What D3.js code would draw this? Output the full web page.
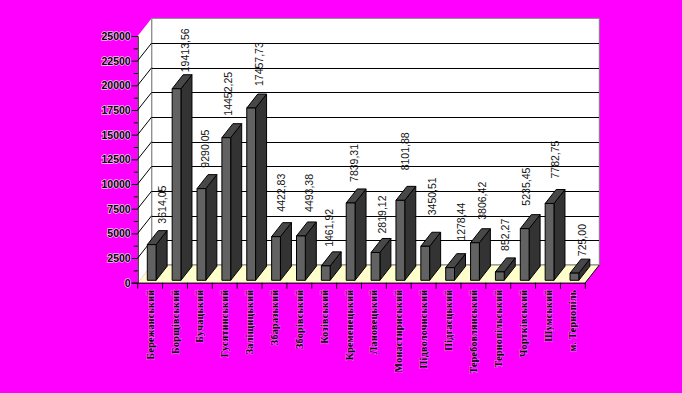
<!DOCTYPE html>
<html>
<head>
<meta charset="utf-8">
<script src="https://cdn.jsdelivr.net/npm/d3@7"></script>
<style>
    body { margin: 0; background: #ff00ff; }
    svg { display: block; }
</style>
</head>
<body>
<svg id="chart"></svg>
<script>
const districts = ["Бережанський", "Борщівський", "Бучацький", "Гусятинський", "Заліщицький",
    "Збаразький", "Зборівський", "Козівський", "Кременецький", "Лановецький", "Монастириський",
    "Підволочиський", "Підгаєцький", "Теребовлянський", "Тернопільський", "Чортківський",
    "Шумський", "м. Тернопіль"];
const values = [3614.05, 19413.56, 9290.05, 14452.25, 17457.73, 4422.83, 4493.38, 1461.92, 7839.31,
    2819.12, 8101.88, 3450.51, 1278.44, 3806.42, 852.27, 5235.45, 7782.75, 725.00];
const majorTicks = [0, 2500, 5000, 7500, 10000, 12500, 15000, 17500, 20000, 22500, 25000];
const minorTicks = [1250, 3750, 6250, 8750, 11250, 13750, 16250, 18750, 21250, 23750];

// the original labels wander around a bit, so each one has its own nudge
const labelDx = [12, 10, 5, 3.5, 10, 7, 9.5, 5.5, 5.6, 8, 6.5, 9, 12.4, 9, 7, 3, 7.6, 9];
const labelGap = [7, 2.5, 7, 8, 8, 11, 10, 5, 7, 5, 16, 17, 13, 9, 7, 9, 11, 3];

const width = 682;
const height = 393;
const depth = {x: 14, y: 17.7};       // wall offset of the 3d box
const barDepth = {x: 11, y: 14};
const barLift = 2.4;                  // bars stand a little behind the front edge

const x = d3.scaleBand()
    .domain(districts)
    .range([137.7, 585.3]);
const y = d3.scaleLinear()
    .domain([0, 25000])
    .range([282.7, 36]);

const svg = d3.select("#chart")
    .attr("width", width)
    .attr("height", height)
    .style("background", "#ff00ff");

const polyline = pts => pts.map(p => p.join(",")).join(" ");
const left = x.range()[0];
const right = x.range()[1];
const floorY = y(0);
const topY = y(25000);

// walls and floor
svg.append("polygon")
    .attr("points", polyline([[left + depth.x, topY - depth.y], [right + depth.x, topY - depth.y],
        [right + depth.x, floorY - depth.y], [left + depth.x, floorY - depth.y]]))
    .attr("fill", "white")
    .attr("stroke", "#808080");
svg.append("polygon")
    .attr("points", polyline([[left, topY], [left + depth.x, topY - depth.y],
        [left + depth.x, floorY - depth.y], [left, floorY]]))
    .attr("fill", "white");
svg.append("polygon")
    .attr("points", polyline([[left, floorY], [left + depth.x, floorY - depth.y],
        [right + depth.x, floorY - depth.y], [right, floorY]]))
    .attr("fill", "#ffffcc");
svg.append("line")
    .attr("x1", left + depth.x).attr("y1", floorY - depth.y)
    .attr("x2", right + depth.x).attr("y2", floorY - depth.y)
    .attr("stroke", "#808080");
svg.append("line")
    .attr("x1", left + depth.x).attr("y1", topY - depth.y)
    .attr("x2", left + depth.x).attr("y2", floorY - depth.y)
    .attr("stroke", "#808080");
svg.append("line")
    .attr("x1", right).attr("y1", floorY)
    .attr("x2", right + depth.x).attr("y2", floorY - depth.y)
    .attr("stroke", "black");

// gridlines, back wall then side wall
const gridTicks = majorTicks.filter(d => d > 0 && d < 25000);
svg.selectAll(".grid")
    .data(gridTicks)
    .join("line")
    .attr("class", "grid")
    .attr("x1", left + depth.x)
    .attr("x2", right + depth.x)
    .attr("y1", d => Math.round(y(d) - depth.y) + 0.5)
    .attr("y2", d => Math.round(y(d) - depth.y) + 0.5)
    .attr("stroke", "black")
    .attr("shape-rendering", "crispEdges");
svg.selectAll(".gridSide")
    .data(gridTicks)
    .join("line")
    .attr("class", "gridSide")
    .attr("x1", left)
    .attr("x2", left + depth.x)
    .attr("y1", d => y(d))
    .attr("y2", d => y(d) - depth.y)
    .attr("stroke", "black");

// bars
const barX = d => x(d.name) + 9.6;
const barW = 8.8;
const barBase = floorY - barLift;
const barTop = d => barBase - (floorY - y(d.value));
const barData = districts.map((name, i) => ({name: name, value: values[i], i: i}));

const bars = svg.selectAll(".bar")
    .data(barData)
    .join("g")
    .attr("class", "bar")
    .attr("stroke", "black")
    .attr("stroke-linejoin", "round");

bars.append("polygon")
    .attr("fill", "#333333")
    .attr("points", d => polyline([
        [barX(d) + barW, barTop(d)], [barX(d) + barW + barDepth.x, barTop(d) - barDepth.y],
        [barX(d) + barW + barDepth.x, barBase - barDepth.y], [barX(d) + barW, barBase]]));
bars.append("polygon")
    .attr("fill", "#484848")
    .attr("points", d => polyline([
        [barX(d), barTop(d)], [barX(d) + barDepth.x, barTop(d) - barDepth.y],
        [barX(d) + barW + barDepth.x, barTop(d) - barDepth.y], [barX(d) + barW, barTop(d)]]));
bars.append("rect")
    .attr("fill", "#626262")
    .attr("x", d => barX(d))
    .attr("y", d => barTop(d))
    .attr("width", barW)
    .attr("height", d => barBase - barTop(d));

// value labels
const commaFormat = d3.format(".2f");
svg.selectAll(".valueLabel")
    .data(barData)
    .join("text")
    .attr("class", "valueLabel")
    .attr("transform", d => {
        const lx = x(d.name) + x.bandwidth() / 2 + labelDx[d.i];
        const ly = barTop(d) - barDepth.y - labelGap[d.i];
        return "translate(" + lx + "," + ly + ")rotate(-90)";
    })
    .attr("dy", "0.35em")
    .style("font", "10.5px 'Liberation Sans'")
    .attr("fill", "#111")
    .text(d => commaFormat(d.value).replace(".", ","));

// value axis
const haloText = (sel, alpha) => sel
    .attr("stroke", "rgba(255,255,255," + alpha + ")")
    .attr("stroke-width", 1.4)
    .attr("paint-order", "stroke")
    .attr("fill", "black");

const yAxis = svg.append("g")
    .attr("transform", "translate(" + left + ",0)")
    .call(d3.axisLeft(y).tickValues(majorTicks).tickSize(6).tickPadding(1).tickFormat(d3.format("d")));
yAxis.selectAll("text")
    .style("font", "bold 10.5px 'Liberation Sans'")
    .call(haloText, 0.75);
svg.append("g")
    .attr("transform", "translate(" + left + ",0)")
    .call(d3.axisLeft(y).tickValues(minorTicks).tickSize(4).tickFormat(""))
    .select(".domain").remove();

// category axis
const xAxis = svg.append("g")
    .attr("transform", "translate(0," + floorY + ")")
    .call(d3.axisBottom(x).tickSize(0).tickPadding(0));
xAxis.selectAll(".tick text")
    .attr("transform", "rotate(-90)")
    .attr("x", -7)
    .attr("y", 0)
    .attr("dy", "0.35em")
    .style("text-anchor", "end")
    .style("font", "bold 10px 'Liberation Serif'")
    .style("letter-spacing", "0.3px")
    .call(haloText, 0.3);
xAxis.selectAll(".edge")
    .data(districts.map(d => x(d)).concat([right]))
    .join("line")
    .attr("class", "edge")
    .attr("x1", d => d)
    .attr("x2", d => d)
    .attr("y1", 0)
    .attr("y2", 6)
    .attr("stroke", "black");
</script>
</body>
</html>
